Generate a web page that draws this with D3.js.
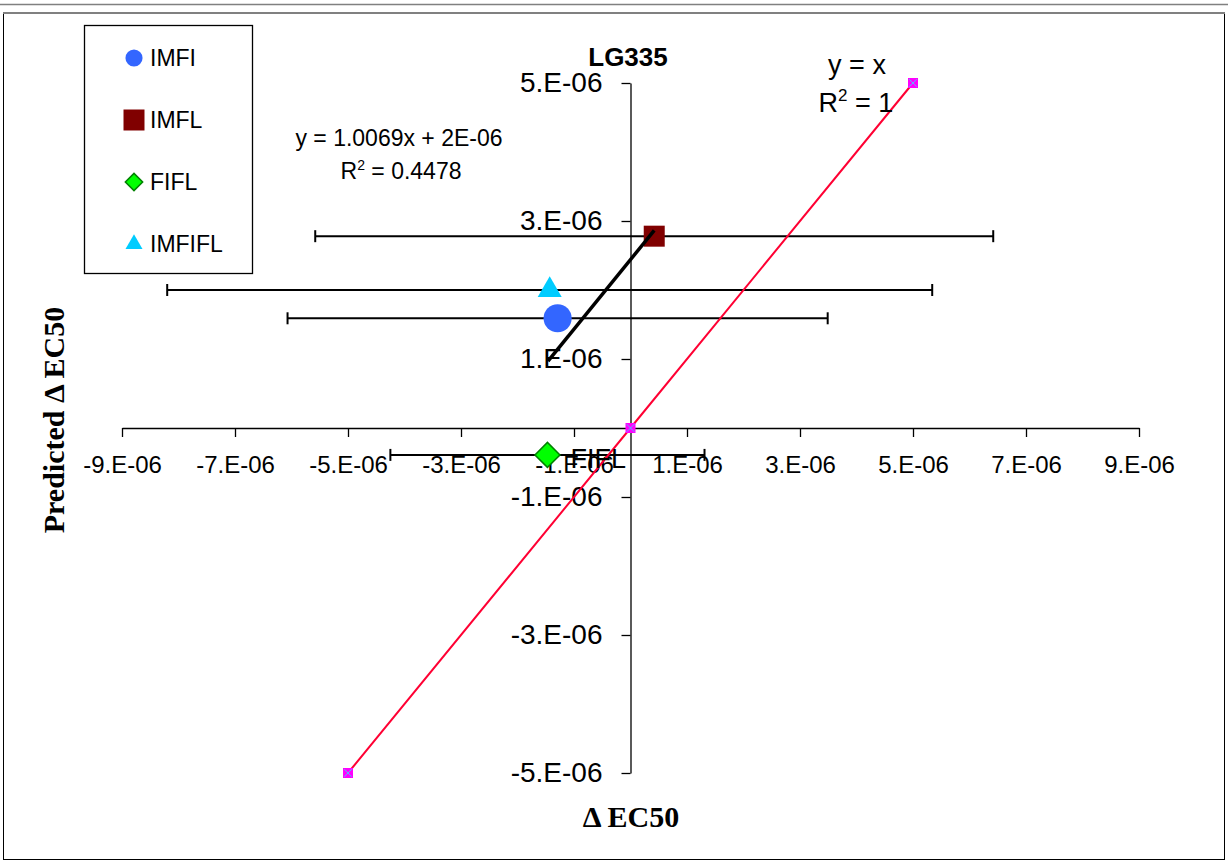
<!DOCTYPE html>
<html>
<head>
<meta charset="utf-8">
<script src="https://cdn.jsdelivr.net/npm/d3@7"></script>
<style>
    body { margin: 0; background: #fff; }
    svg { display: block; font-family: Arial, "Liberation Sans", sans-serif; }
</style>
</head>
<body>
<script>
//series names and values
var seriesNames = ["IMFI", "IMFL", "FIFL", "IMFIFL"];
var seriesX = [-1.29e-6, 0.42e-6, -1.47e-6, -1.43e-6];
var seriesY = [1.59e-6, 2.78e-6, -0.39e-6, 2.0e-6];
var seriesXErr = [4.78e-6, 6.0e-6, 2.78e-6, 6.77e-6];

//y = x reference series
var refX = [-5e-6, 0, 5e-6];
var refY = [-5e-6, 0, 5e-6];

//trendline y = 1.0069x + b, drawn over the x range below
var trendSlope = 1.0069;
var trendIntercept = 2.44e-6;
var trendRange = [-1.46e-6, 0.42e-6];

//tick values and labels
var xTicks = [-9e-6, -7e-6, -5e-6, -3e-6, -1e-6, 1e-6, 3e-6, 5e-6, 7e-6, 9e-6];
var xTickLabels = ["-9.E-06", "-7.E-06", "-5.E-06", "-3.E-06", "-1.E-06", "1.E-06", "3.E-06", "5.E-06", "7.E-06", "9.E-06"];
var yTicks = [-5e-6, -3e-6, -1e-6, 1e-6, 3e-6, 5e-6];
var yTickLabels = ["-5.E-06", "-3.E-06", "-1.E-06", "1.E-06", "3.E-06", "5.E-06"];

window.onload = drawChart();

function drawChart(){

    var width = 1228,
        height = 864;

    var svg = d3.select("body")
        .append("svg")
        .attr("width", width)
        .attr("height", height);

    //chart frame
    svg.append("rect")
        .attr("x", 3.5).attr("y", 13.5)
        .attr("width", 1221).attr("height", 846)
        .attr("fill", "#fff")
        .attr("stroke", "#000");
    svg.append("line")
        .attr("x1", 0).attr("x2", width)
        .attr("y1", 4.5).attr("y2", 4.5)
        .attr("stroke", "#808080").attr("stroke-width", 1.5);
    svg.append("line")
        .attr("x1", 3).attr("x2", 1225)
        .attr("y1", 13).attr("y2", 13)
        .attr("stroke", "#808080").attr("stroke-width", 2);

    var x = d3.scaleLinear()
        .domain([-9e-6, 9e-6])
        .range([122, 1139]);

    var y = d3.scaleLinear()
        .domain([-5e-6, 5e-6])
        .range([773, 83]);

    //axes cross at the origin
    var xAxis = d3.axisBottom(x)
        .tickValues(xTicks)
        .tickFormat(function(d, i){ return xTickLabels[i]; })
        .tickSizeInner(9)
        .tickSizeOuter(0)
        .tickPadding(19);

    var yAxis = d3.axisLeft(y)
        .tickValues(yTicks)
        .tickFormat(function(d, i){ return yTickLabels[i]; })
        .tickSizeInner(9)
        .tickSizeOuter(0)
        .tickPadding(19);

    var gx = svg.append("g")
        .attr("transform", "translate(0," + y(0) + ")")
        .call(xAxis);
    gx.selectAll("text").attr("font-size", 24).attr("fill", "#000");

    var gy = svg.append("g")
        .attr("transform", "translate(" + x(0) + ",0)")
        .call(yAxis);
    gy.selectAll("text").attr("font-size", 28).attr("fill", "#000");

    svg.selectAll(".domain, .tick line")
        .attr("stroke", "#000")
        .attr("stroke-width", 1.3);
    svg.selectAll("g").attr("font-family", null);

    //horizontal error bars
    var idx = d3.range(seriesNames.length);
    var bars = svg.append("g").attr("class", "errorBars");
    bars.selectAll(".errLine")
        .data(idx)
        .enter()
        .append("line")
        .attr("x1", function(i){ return x(seriesX[i] - seriesXErr[i]); })
        .attr("x2", function(i){ return x(seriesX[i] + seriesXErr[i]); })
        .attr("y1", function(i){ return y(seriesY[i]); })
        .attr("y2", function(i){ return y(seriesY[i]); })
        .attr("stroke", "#000").attr("stroke-width", 2);
    [-1, 1].forEach(function(side){
        bars.selectAll(".cap" + side)
            .data(idx)
            .enter()
            .append("line")
            .attr("x1", function(i){ return x(seriesX[i] + side * seriesXErr[i]); })
            .attr("x2", function(i){ return x(seriesX[i] + side * seriesXErr[i]); })
            .attr("y1", function(i){ return y(seriesY[i]) - 6; })
            .attr("y2", function(i){ return y(seriesY[i]) + 6; })
            .attr("stroke", "#000").attr("stroke-width", 2);
    });

    //marker styles per series
    var markerType = [d3.symbolCircle, d3.symbolSquare, d3.symbolSquare, d3.symbolTriangle];
    var markerSize = [620, 441, 313, 250];
    var legendSize = [230, 441, 150, 125];
    var markerRotate = [0, 0, 45, 0];
    var markerFill = ["#3366ff", "#800000", "#00ff00", "#00ccff"];
    var markerStroke = ["none", "none", "#008000", "none"];

    svg.append("g").selectAll("path")
        .data(idx)
        .enter()
        .append("path")
        .attr("d", function(i){ return d3.symbol().type(markerType[i]).size(markerSize[i])(); })
        .attr("transform", function(i){
            return "translate(" + x(seriesX[i]) + "," + y(seriesY[i]) + ") rotate(" + markerRotate[i] + ")";
        })
        .attr("fill", function(i){ return markerFill[i]; })
        .attr("stroke", function(i){ return markerStroke[i]; })
        .attr("stroke-width", 1.5);

    //y = x line with its points
    var refLine = d3.line()
        .x(function(i){ return x(refX[i]); })
        .y(function(i){ return y(refY[i]); });
    svg.append("path")
        .datum(d3.range(refX.length))
        .attr("d", refLine)
        .attr("fill", "none")
        .attr("stroke", "#ff0033")
        .attr("stroke-width", 2);
    svg.append("g").selectAll("rect")
        .data(d3.range(refX.length))
        .enter()
        .append("rect")
        .attr("x", function(i){ return x(refX[i]) - 5; })
        .attr("y", function(i){ return y(refY[i]) - 5; })
        .attr("width", 10).attr("height", 10)
        .attr("fill", "#ff00ff");
    var timesType = d3.symbolTimes || d3.symbolCross;
    svg.append("g").selectAll("path")
        .data(d3.range(refX.length))
        .enter()
        .append("path")
        .attr("d", d3.symbol().type(timesType).size(40))
        .attr("transform", function(i){ return "translate(" + x(refX[i]) + "," + y(refY[i]) + ")"; })
        .attr("fill", "none")
        .attr("stroke", "#33ddff")
        .attr("stroke-width", 0.8);

    //linear trendline
    svg.append("line")
        .attr("x1", x(trendRange[0]))
        .attr("y1", y(trendSlope * trendRange[0] + trendIntercept))
        .attr("x2", x(trendRange[1]))
        .attr("y2", y(trendSlope * trendRange[1] + trendIntercept))
        .attr("stroke", "#000")
        .attr("stroke-width", 3.5);

    //data label for FIFL
    svg.append("text")
        .attr("x", x(seriesX[2]) + 23)
        .attr("y", y(seriesY[2]) + 13)
        .attr("font-size", 27)
        .text(seriesNames[2]);

    //title
    svg.append("text")
        .attr("x", 628).attr("y", 66)
        .attr("text-anchor", "middle")
        .attr("font-size", 26)
        .attr("font-weight", "bold")
        .text("LG335");

    //trendline equations
    svg.append("text")
        .attr("x", 399).attr("y", 146)
        .attr("text-anchor", "middle")
        .attr("font-size", 23)
        .text("y = 1.0069x + 2E-06");
    var r2a = svg.append("text")
        .attr("x", 401).attr("y", 179)
        .attr("text-anchor", "middle")
        .attr("font-size", 23);
    r2a.append("tspan").text("R");
    r2a.append("tspan").attr("dy", -9).attr("font-size", 14).text("2");
    r2a.append("tspan").attr("dy", 9).text(" = 0.4478");

    svg.append("text")
        .attr("x", 857).attr("y", 74)
        .attr("text-anchor", "middle")
        .attr("font-size", 27)
        .text("y = x");
    var r2b = svg.append("text")
        .attr("x", 856).attr("y", 112)
        .attr("text-anchor", "middle")
        .attr("font-size", 27);
    r2b.append("tspan").text("R");
    r2b.append("tspan").attr("dy", -11).attr("font-size", 17).text("2");
    r2b.append("tspan").attr("dy", 11).text(" = 1");

    //axis titles
    svg.append("text")
        .attr("x", 631).attr("y", 827)
        .attr("text-anchor", "middle")
        .attr("font-family", "'Liberation Serif', 'Times New Roman', serif")
        .attr("font-size", 30)
        .attr("font-weight", "bold")
        .text("Δ EC50");
    svg.append("text")
        .attr("transform", "translate(64,420) rotate(-90)")
        .attr("text-anchor", "middle")
        .attr("font-family", "'Liberation Serif', 'Times New Roman', serif")
        .attr("font-size", 30)
        .attr("font-weight", "bold")
        .text("Predicted Δ EC50");

    //legend
    var legend = svg.append("g");
    legend.append("rect")
        .attr("x", 84.5).attr("y", 25.5)
        .attr("width", 168).attr("height", 248)
        .attr("fill", "#fff")
        .attr("stroke", "#000")
        .attr("stroke-width", 1.3);
    var legendY = d3.scalePoint().domain(idx).range([58, 244]);
    var items = legend.selectAll(".item")
        .data(idx)
        .enter()
        .append("g")
        .attr("transform", function(i){ return "translate(134," + legendY(i) + ")"; });
    items.append("path")
        .attr("d", function(i){ return d3.symbol().type(markerType[i]).size(legendSize[i])(); })
        .attr("transform", function(i){ return "rotate(" + markerRotate[i] + ")"; })
        .attr("fill", function(i){ return markerFill[i]; })
        .attr("stroke", function(i){ return markerStroke[i]; })
        .attr("stroke-width", 1.5);
    items.append("text")
        .attr("x", 16)
        .attr("dy", "0.36em")
        .attr("font-size", 23)
        .text(function(i){ return seriesNames[i]; });
}
</script>
</body>
</html>
